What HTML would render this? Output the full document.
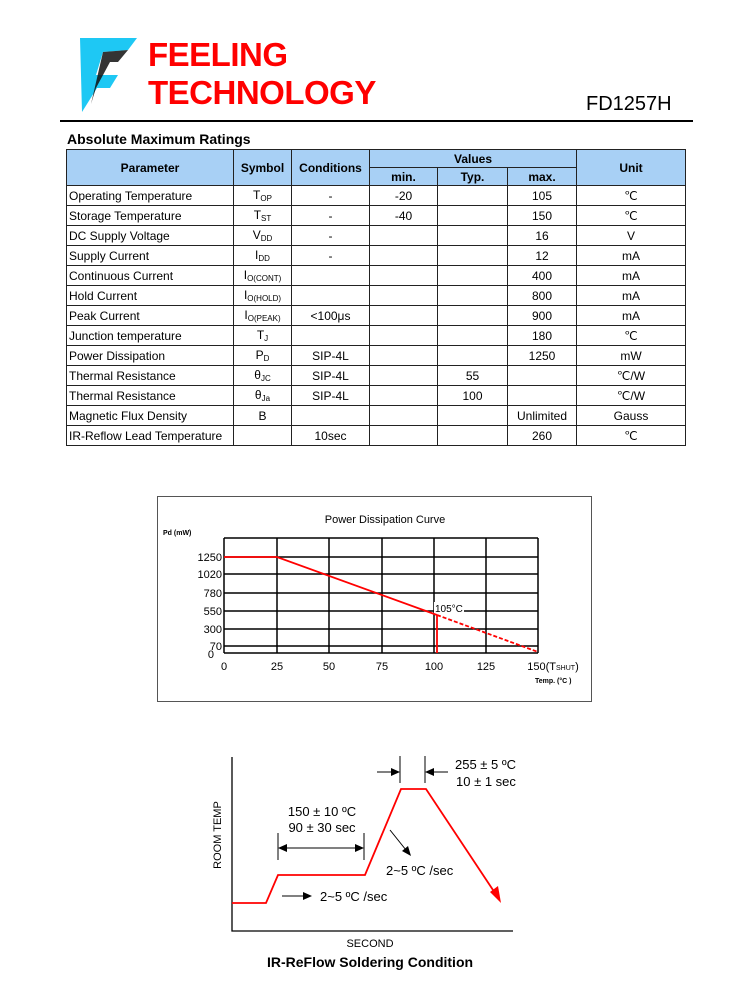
<!DOCTYPE html>
<html><head><meta charset="utf-8"><style>
body{margin:0;width:750px;height:1000px;background:#fff;position:relative;font-family:"Liberation Sans",Arial,sans-serif;overflow:hidden}
.a{position:absolute}
table{border-collapse:collapse;position:absolute;left:66px;top:149px;width:620px;font-size:12px}
td{border:1px solid #222;height:19px;padding:0 2px;text-align:center;white-space:nowrap}
td:first-child{text-align:left}
th{background:#a8d0f5;border:1px solid #222;font-size:12px;font-weight:bold;height:17px;padding:0}
sub{font-size:8px;vertical-align:-2px}
</style></head><body>
<svg class="a" style="left:0;top:0" width="750" height="1000">
<polygon points="80,38 137,38 128,50 103,52 96,75 118,75 110,88 97,88 82,112" fill="#1ec8f4"/>
<polygon points="103,52 128,50 118,62 110,62 96,88 91,104" fill="#111" opacity="0.85"/>
<line x1="60" y1="121" x2="693" y2="121" stroke="#000" stroke-width="2"/>
</svg>
<div class="a" style="left:148px;top:36px;color:#f00;font-weight:bold;font-size:33px;line-height:38px;letter-spacing:-0.5px">FEELING<br>TECHNOLOGY</div>
<div class="a" style="left:586px;top:93px;font-size:20px">FD1257H</div>
<div class="a" style="left:67px;top:131px;font-size:14px;font-weight:bold">Absolute Maximum Ratings</div>
<table>
<colgroup><col style="width:167px"><col style="width:58px"><col style="width:78px"><col style="width:68px"><col style="width:70px"><col style="width:69px"><col></colgroup>
<tr><th rowspan="2">Parameter</th><th rowspan="2">Symbol</th><th rowspan="2">Conditions</th><th colspan="3">Values</th><th rowspan="2">Unit</th></tr>
<tr><th>min.</th><th>Typ.</th><th>max.</th></tr>
<tr><td>Operating Temperature</td><td>T<sub>OP</sub></td><td>-</td><td>-20</td><td></td><td>105</td><td>℃</td></tr>
<tr><td>Storage Temperature</td><td>T<sub>ST</sub></td><td>-</td><td>-40</td><td></td><td>150</td><td>℃</td></tr>
<tr><td>DC Supply Voltage</td><td>V<sub>DD</sub></td><td>-</td><td></td><td></td><td>16</td><td>V</td></tr>
<tr><td>Supply Current</td><td>I<sub>DD</sub></td><td>-</td><td></td><td></td><td>12</td><td>mA</td></tr>
<tr><td>Continuous Current</td><td>I<sub>O(CONT)</sub></td><td></td><td></td><td></td><td>400</td><td>mA</td></tr>
<tr><td>Hold Current</td><td>I<sub>O(HOLD)</sub></td><td></td><td></td><td></td><td>800</td><td>mA</td></tr>
<tr><td>Peak Current</td><td>I<sub>O(PEAK)</sub></td><td>&lt;100μs</td><td></td><td></td><td>900</td><td>mA</td></tr>
<tr><td>Junction temperature</td><td>T<sub>J</sub></td><td></td><td></td><td></td><td>180</td><td>℃</td></tr>
<tr><td>Power Dissipation</td><td>P<sub>D</sub></td><td>SIP-4L</td><td></td><td></td><td>1250</td><td>mW</td></tr>
<tr><td>Thermal Resistance</td><td>θ<sub>JC</sub></td><td>SIP-4L</td><td></td><td>55</td><td></td><td>℃/W</td></tr>
<tr><td>Thermal Resistance</td><td>θ<sub>Ja</sub></td><td>SIP-4L</td><td></td><td>100</td><td></td><td>℃/W</td></tr>
<tr><td>Magnetic Flux Density</td><td>B</td><td></td><td></td><td></td><td>Unlimited</td><td>Gauss</td></tr>
<tr><td>IR-Reflow Lead Temperature</td><td></td><td>10sec</td><td></td><td></td><td>260</td><td>℃</td></tr>
</table>
<svg class="a" style="left:0;top:0" width="750" height="1000" font-family="Liberation Sans,Arial,sans-serif">
<rect x="157.5" y="496.5" width="434" height="205" fill="none" stroke="#555"/>
<text x="385" y="523" font-size="11" text-anchor="middle">Power Dissipation Curve</text>
<text x="163" y="535" font-size="7" font-weight="bold">Pd (mW)</text>
<g stroke="#000" stroke-width="1.5">
<line x1="224" y1="538" x2="224" y2="653"/><line x1="277" y1="538" x2="277" y2="653"/><line x1="329" y1="538" x2="329" y2="653"/><line x1="382" y1="538" x2="382" y2="653"/><line x1="434" y1="538" x2="434" y2="653"/><line x1="486" y1="538" x2="486" y2="653"/><line x1="538" y1="538" x2="538" y2="653"/>
<line x1="224" y1="538" x2="538" y2="538"/><line x1="224" y1="557" x2="538" y2="557"/><line x1="224" y1="574" x2="538" y2="574"/><line x1="224" y1="593" x2="538" y2="593"/><line x1="224" y1="611" x2="538" y2="611"/><line x1="224" y1="629" x2="538" y2="629"/><line x1="224" y1="646" x2="538" y2="646"/><line x1="224" y1="653" x2="538" y2="653"/>
</g>
<rect x="434" y="602" width="30" height="12" fill="#fff"/>
<text x="435" y="612" font-size="10">105°C</text>
<g stroke="#f00" stroke-width="1.8" fill="none">
<polyline points="224,557 277,557 437,615"/>
<line x1="437" y1="615" x2="538" y2="652" stroke-dasharray="4,2"/>
<line x1="437" y1="615" x2="437" y2="653"/>
</g>
<g font-size="11" text-anchor="end"><text x="222" y="561">1250</text><text x="222" y="578">1020</text><text x="222" y="597">780</text><text x="222" y="615">550</text><text x="222" y="633">300</text><text x="222" y="650">70</text><text x="214" y="658">0</text></g>
<g font-size="11" text-anchor="middle"><text x="224" y="670">0</text><text x="277" y="670">25</text><text x="329" y="670">50</text><text x="382" y="670">75</text><text x="434" y="670">100</text><text x="486" y="670">125</text><text x="553" y="670">150(T<tspan font-size="7">SHUT</tspan>)</text></g>
<text x="535" y="683" font-size="7" font-weight="bold">Temp. (°C )</text>

<polyline points="232,757 232,931 513,931" fill="none" stroke="#000" stroke-width="1.3"/>
<polyline points="232,903 266,903 278,875 365,875 401,789 426,789 495,893" fill="none" stroke="#f00" stroke-width="1.8"/>
<polygon points="501,903 490,892 498,886" fill="#f00"/>
<g stroke="#000" stroke-width="1"><line x1="278" y1="833" x2="278" y2="860"/><line x1="364" y1="833" x2="364" y2="860"/><line x1="282" y1="848" x2="360" y2="848"/>
<line x1="400" y1="756" x2="400" y2="783"/><line x1="425" y1="756" x2="425" y2="783"/><line x1="377" y1="772" x2="394" y2="772"/><line x1="448" y1="772" x2="431" y2="772"/>
<line x1="390" y1="830" x2="406" y2="850"/><line x1="282" y1="896" x2="305" y2="896"/></g>
<g fill="#000"><polygon points="278,848 287,844 287,852"/><polygon points="364,848 355,844 355,852"/><polygon points="400,772 391,768 391,776"/><polygon points="425,772 434,768 434,776"/><polygon points="411,856 402,851 408,846"/><polygon points="312,896 303,892 303,900"/></g>
<g font-size="13"><text x="322" y="816" text-anchor="middle">150 ± 10 ºC</text><text x="322" y="832" text-anchor="middle">90 ± 30 sec</text>
<text x="455" y="769">255 ± 5 ºC</text><text x="456" y="786">10 ± 1 sec</text>
<text x="386" y="875">2~5 ºC /sec</text><text x="320" y="901">2~5 ºC /sec</text></g>
<text x="221" y="835" font-size="11" text-anchor="middle" transform="rotate(-90 221 835)">ROOM TEMP</text>
<text x="370" y="947" font-size="11" text-anchor="middle">SECOND</text>
<text x="370" y="967" font-size="14" font-weight="bold" text-anchor="middle">IR-ReFlow Soldering Condition</text>
</svg>
</body></html>
